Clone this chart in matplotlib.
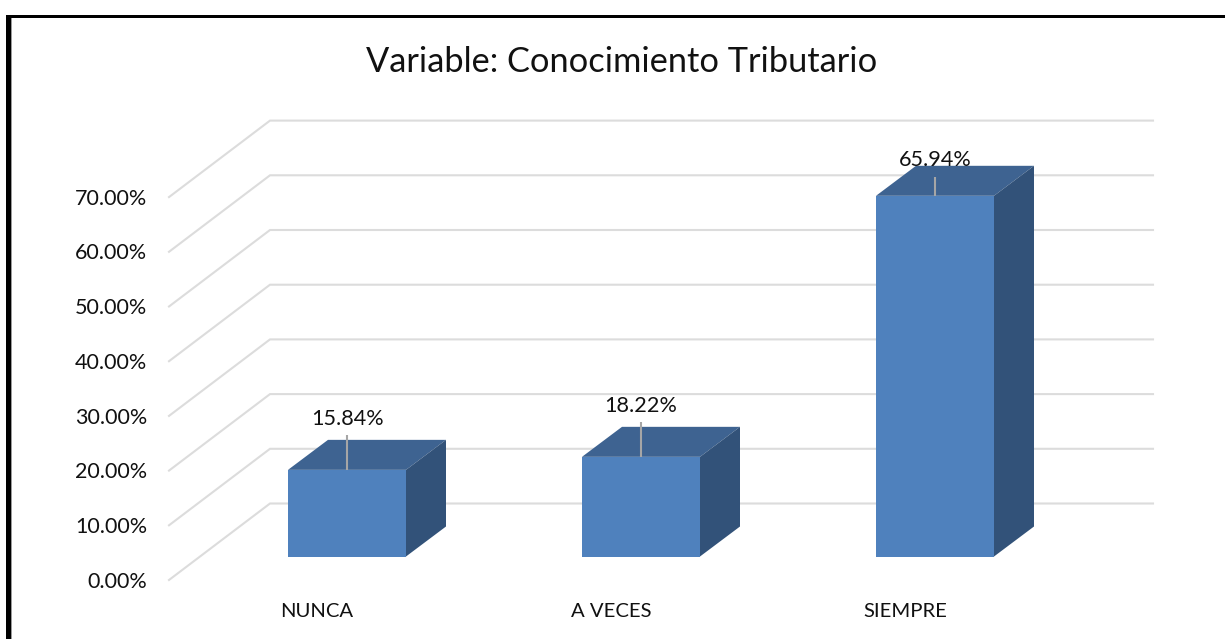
import matplotlib
matplotlib.use("Agg")
import matplotlib.pyplot as plt
from matplotlib.patches import Rectangle

categories = ["NUNCA", "A VECES", "SIEMPRE"]
values = [15.84, 18.22, 65.94]
value_labels = ["15.84%", "18.22%", "65.94%"]
axis_ticks = [0, 10, 20, 30, 40, 50, 60, 70]
axis_labels = ["0.00%", "10.00%", "20.00%", "30.00%", "40.00%", "50.00%", "60.00%", "70.00%"]
title = "Variable: Conocimiento Tributario"

W, H = 1225, 639
PX_X = 294.0      # pixels per category
PX_Y = 5.47       # pixels per percent
X0, Y0 = 347.0, 556.5  # pixel of category 0, value 0 on the bars' front plane
FONT = "Lato"

plt.rcParams["font.family"] = [FONT, "DejaVu Sans"]
fig = plt.figure(figsize=(W / 100, H / 100), dpi=100, facecolor="white")
ax = fig.add_axes([0, 0, 1, 1])
ax.set_xlim(-X0 / PX_X, (W - X0) / PX_X)
ax.set_ylim((Y0 - H) / PX_Y, Y0 / PX_Y)
ax.axis("off")


def dx(px):
    return px / PX_X


def dy(px):
    return px / PX_Y


# walls: offsets from the front plane, in pixels
left_x, back_x, right_x = dx(169 - X0), dx(270 - X0), dx(1153 - X0)
front_off, back_off = dy(Y0 - 580.0), dy(Y0 - 503.5)
for v in axis_ticks:
    ax.plot([left_x, back_x, right_x],
            [v + front_off, v + back_off, v + back_off],
            color="#DCDCDC", lw=1.5, solid_joinstyle="miter", zorder=1)
    ax.text(dx(147 - X0), v + front_off + dy(0.4), axis_labels[axis_ticks.index(v)],
            ha="right", va="center_baseline", fontsize=15.5, color="#111111")

# bars
half = dx(59)
ddx, ddy = dx(40), dy(30)
FRONT, TOP, SIDE = "#4F81BD", "#3E6391", "#325279"
leader_px = [35, 35, 19]
label_px = [53, 53, 38]
for i, (cat, v, lab) in enumerate(zip(categories, values, value_labels)):
    ax.bar(i, v, width=2 * half, color=FRONT, zorder=3, linewidth=0)
    ax.fill([i - half, i + half, i + half + ddx, i - half + ddx],
            [v, v, v + ddy, v + ddy], color=TOP, lw=0, zorder=3)
    ax.fill([i + half, i + half + ddx, i + half + ddx, i + half],
            [0, ddy, v + ddy, v], color=SIDE, lw=0, zorder=3)
    ax.plot([i, i], [v, v + dy(leader_px[i])], color="#A6A6A6", lw=1.5, zorder=4,
            solid_capstyle="butt")
    ax.text(i, v + dy(label_px[i]), lab, ha="center", va="center_baseline",
            fontsize=15.6, color="#111111", zorder=5)
    ax.text(i + dx(-30), dy(Y0 - 610), cat, ha="center", va="center_baseline",
            fontsize=14.6, color="#111111", zorder=5)

ax.text(dx(622 - X0), dy(Y0 - 59), title, ha="center", va="center_baseline",
        fontsize=24.75, color="#111111")

# picture frame
def frame(x0, y0, x1, y1, color):
    ax.add_patch(Rectangle((x0 / W, 1 - y1 / H), (x1 - x0) / W, (y1 - y0) / H,
                           transform=ax.transAxes, facecolor=color, lw=0,
                           clip_on=False, zorder=6))

frame(11, 17.5, 12, H, "#9A9A9A")
frame(6, 15, 11, H, "#000000")
frame(6, 15, W, 17.5, "#000000")

fig.savefig("out.png", dpi=100, facecolor="white")
